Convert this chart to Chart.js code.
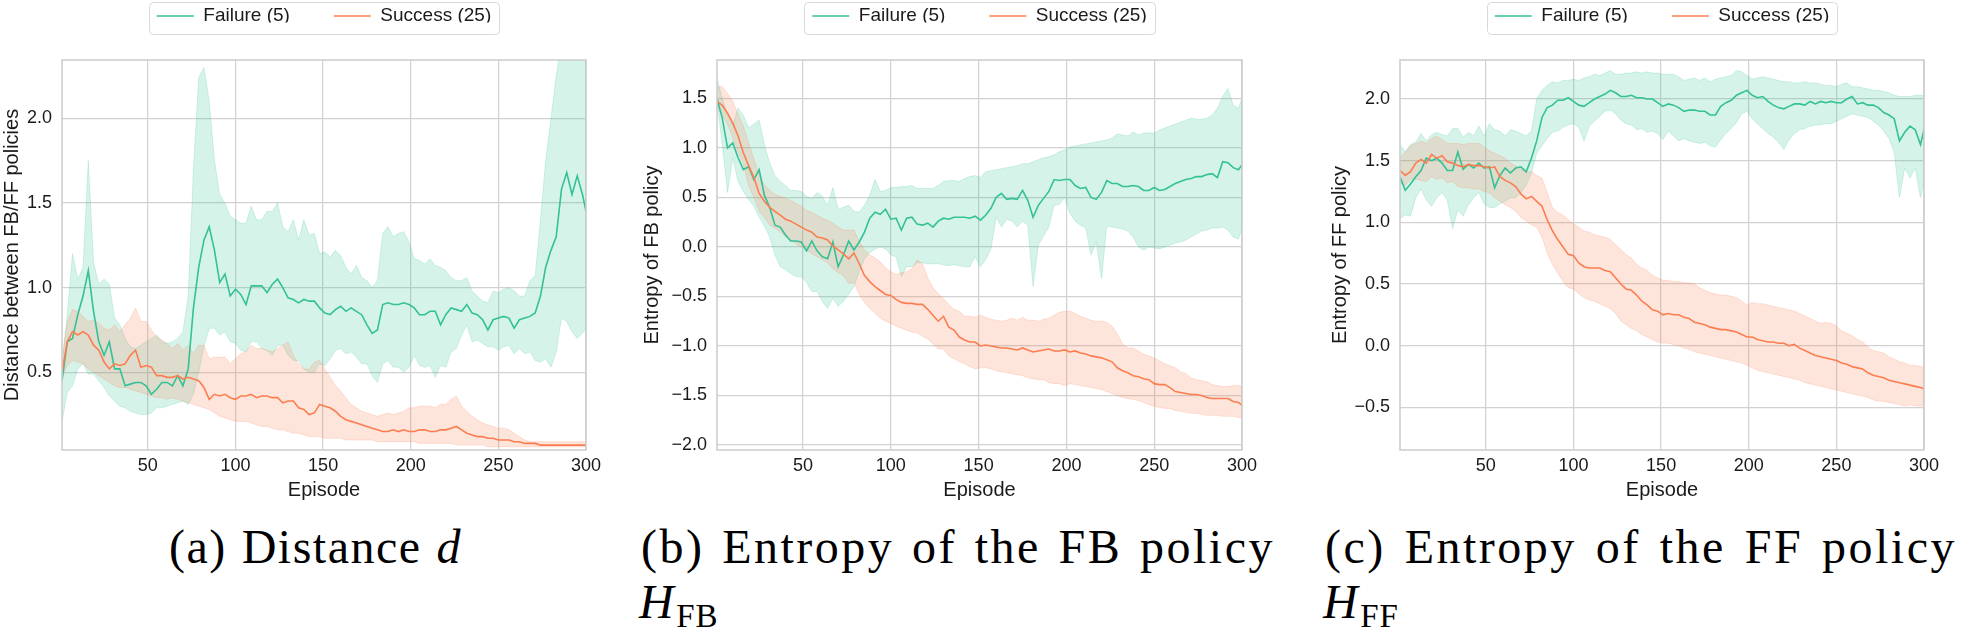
<!DOCTYPE html>
<html><head><meta charset="utf-8">
<script src="https://cdn.jsdelivr.net/npm/chart.js@4/dist/chart.umd.min.js"></script>
<style>
html,body{margin:0;padding:0;background:#fff;width:1961px;height:632px;overflow:hidden;position:relative;}
canvas{position:absolute;top:0;}
.cap{position:absolute;font-family:"Liberation Serif","Times New Roman",serif;font-size:48px;line-height:48px;color:#000;white-space:nowrap;letter-spacing:2.5px;}
.just{text-align:justify;text-align-last:justify;white-space:normal;}
.sub{font-size:33px;position:relative;top:9px;letter-spacing:1px;}
</style></head><body>
<canvas id="ca" width="610" height="506" style="left:0px"></canvas>
<canvas id="cb" width="626" height="506" style="left:640px"></canvas>
<canvas id="cc" width="620" height="506" style="left:1328px"></canvas>
<div class="cap just" style="left:169px;top:523px;width:293px;letter-spacing:1.5px">(a) Distance <i>d</i></div>
<div class="cap just" style="left:641px;top:523px;width:634px">(b) Entropy of the FB policy</div>
<div class="cap" style="left:639px;top:578px"><i>H</i><span class="sub">FB</span></div>
<div class="cap just" style="left:1325px;top:523px;width:632px">(c) Entropy of the FF policy</div>
<div class="cap" style="left:1323px;top:578px"><i>H</i><span class="sub">FF</span></div>
<script>
// ---------------- data ----------------
const episodes = [1,4,7,10,13,16,19,22,25,28,
 31,34,37,40,43,46,49,52,55,58,
 61,64,67,70,73,76,79,82,85,88,
 91,94,97,100,103,106,109,112,115,118,
 121,124,127,130,133,136,139,142,145,148,
 151,154,157,160,163,166,169,172,175,178,
 181,184,187,190,193,196,199,202,205,208,
 211,214,217,220,223,226,229,232,235,238,
 241,244,247,250,253,256,259,262,265,268,
 271,274,277,280,283,286,289,292,295,298,
 300];
const seriesLabels = ['Failure (5)', 'Success (25)'];
const xTicks = [50, 100, 150, 200, 250, 300];
const ticksA = [0.5, 1.0, 1.5, 2.0];
const ticksB = [-2.0, -1.5, -1.0, -0.5, 0.0, 0.5, 1.0, 1.5];
const ticksC = [-0.5, 0.0, 0.5, 1.0, 1.5, 2.0];

// (a) distance
const aFailMean = [0.45,0.68,0.70,0.84,0.95,1.10,0.86,0.68,0.60,0.68,
 0.52,0.52,0.42,0.43,0.44,0.44,0.42,0.37,0.40,0.44,
 0.44,0.42,0.48,0.42,0.52,0.88,1.12,1.28,1.36,1.22,
 1.03,1.08,0.95,0.99,0.96,0.90,1.01,1.01,1.01,0.97,
 1.02,1.05,1.00,0.94,0.93,0.91,0.93,0.92,0.92,0.88,
 0.85,0.84,0.87,0.89,0.86,0.88,0.86,0.84,0.78,0.73,
 0.75,0.90,0.91,0.90,0.90,0.91,0.90,0.88,0.84,0.84,
 0.86,0.86,0.78,0.84,0.88,0.87,0.86,0.90,0.85,0.84,
 0.81,0.75,0.81,0.82,0.83,0.82,0.76,0.81,0.82,0.83,
 0.85,0.95,1.12,1.22,1.30,1.58,1.68,1.55,1.66,1.55,
 1.45];
const aFailHi = [0.55,0.84,1.20,1.05,1.12,1.75,1.15,1.02,1.05,1.02,
 0.82,0.78,0.70,0.65,0.64,0.66,0.68,0.70,0.72,0.68,
 0.67,0.68,0.70,0.74,0.95,1.70,2.24,2.30,2.10,1.75,
 1.55,1.50,1.42,1.40,1.38,1.38,1.48,1.40,1.40,1.45,
 1.45,1.50,1.36,1.33,1.40,1.28,1.40,1.31,1.32,1.20,
 1.21,1.18,1.22,1.19,1.12,1.08,1.13,1.06,1.04,1.00,
 1.04,1.32,1.36,1.30,1.32,1.33,1.27,1.17,1.16,1.14,
 1.17,1.13,1.12,1.10,1.06,1.04,1.04,1.06,0.98,0.95,
 0.92,0.91,0.98,0.97,0.99,1.00,0.98,0.95,0.95,1.04,
 1.07,1.40,1.75,2.00,2.25,2.45,2.50,2.50,2.50,2.50,
 2.50];
const aFailLo = [0.21,0.38,0.42,0.52,0.55,0.49,0.49,0.45,0.41,0.36,
 0.33,0.30,0.29,0.27,0.26,0.25,0.25,0.26,0.29,0.29,
 0.30,0.31,0.32,0.33,0.31,0.37,0.50,0.65,0.76,0.76,
 0.72,0.74,0.68,0.67,0.63,0.62,0.68,0.68,0.64,0.63,
 0.60,0.66,0.66,0.60,0.57,0.57,0.52,0.50,0.50,0.55,
 0.54,0.58,0.63,0.64,0.61,0.62,0.59,0.55,0.55,0.48,
 0.44,0.55,0.57,0.53,0.53,0.50,0.53,0.60,0.54,0.53,
 0.54,0.47,0.54,0.53,0.62,0.64,0.72,0.78,0.68,0.69,
 0.67,0.65,0.65,0.63,0.65,0.66,0.61,0.64,0.61,0.62,
 0.57,0.56,0.58,0.53,0.62,0.82,0.80,0.74,0.70,0.73,
 0.76];
const aSuccMean = [0.50,0.68,0.74,0.72,0.74,0.72,0.66,0.63,0.56,0.52,
 0.55,0.54,0.55,0.60,0.63,0.53,0.54,0.53,0.48,0.48,
 0.47,0.47,0.48,0.46,0.47,0.46,0.45,0.41,0.34,0.37,
 0.36,0.37,0.35,0.34,0.36,0.36,0.37,0.35,0.36,0.36,
 0.35,0.35,0.32,0.33,0.33,0.29,0.28,0.25,0.26,0.31,
 0.30,0.29,0.27,0.24,0.22,0.21,0.20,0.19,0.18,0.17,
 0.16,0.15,0.15,0.16,0.15,0.16,0.15,0.15,0.16,0.16,
 0.15,0.15,0.16,0.16,0.17,0.18,0.16,0.14,0.13,0.12,
 0.12,0.11,0.11,0.10,0.10,0.10,0.09,0.09,0.08,0.08,
 0.08,0.07,0.07,0.07,0.07,0.07,0.07,0.07,0.07,0.07,
 0.07];
const aSuccHi = [0.58,0.80,0.87,0.86,0.83,0.80,0.81,0.79,0.76,0.75,
 0.78,0.74,0.78,0.82,0.88,0.80,0.80,0.75,0.71,0.69,
 0.67,0.64,0.67,0.63,0.66,0.61,0.66,0.66,0.58,0.59,
 0.59,0.59,0.55,0.58,0.61,0.62,0.66,0.64,0.64,0.63,
 0.62,0.64,0.66,0.68,0.60,0.55,0.52,0.52,0.56,0.57,
 0.52,0.47,0.42,0.39,0.35,0.31,0.29,0.27,0.26,0.25,
 0.24,0.25,0.26,0.25,0.26,0.27,0.29,0.29,0.30,0.30,
 0.30,0.29,0.31,0.31,0.34,0.36,0.30,0.27,0.24,0.22,
 0.20,0.19,0.18,0.17,0.17,0.16,0.14,0.12,0.10,0.09,
 0.09,0.09,0.09,0.09,0.09,0.09,0.09,0.09,0.09,0.09,
 0.09];
const aSuccLo = [0.47,0.54,0.57,0.56,0.55,0.52,0.50,0.48,0.46,0.44,
 0.42,0.41,0.41,0.40,0.39,0.38,0.37,0.36,0.35,0.35,
 0.34,0.35,0.34,0.33,0.32,0.31,0.30,0.29,0.28,0.26,
 0.24,0.23,0.22,0.21,0.21,0.21,0.20,0.19,0.18,0.18,
 0.17,0.16,0.16,0.15,0.14,0.14,0.13,0.12,0.12,0.12,
 0.11,0.11,0.11,0.11,0.10,0.10,0.10,0.10,0.10,0.10,
 0.09,0.09,0.09,0.09,0.09,0.09,0.09,0.09,0.08,0.08,
 0.08,0.08,0.08,0.08,0.08,0.07,0.07,0.07,0.07,0.07,
 0.07,0.06,0.06,0.06,0.06,0.06,0.06,0.06,0.06,0.06,
 0.06,0.06,0.06,0.06,0.06,0.06,0.06,0.06,0.06,0.06,
 0.06];

// (b) entropy of FB policy
const bFailMean = [1.50,1.30,1.00,1.05,0.90,0.78,0.81,0.68,0.78,0.52,
 0.40,0.22,0.20,0.12,0.06,0.06,0.05,-0.04,0.06,-0.04,
 -0.10,-0.12,0.05,-0.20,-0.08,0.06,-0.03,0.05,0.15,0.29,
 0.35,0.33,0.38,0.28,0.29,0.17,0.29,0.30,0.23,0.22,
 0.24,0.20,0.26,0.29,0.28,0.30,0.30,0.30,0.29,0.31,
 0.27,0.32,0.39,0.50,0.54,0.48,0.49,0.48,0.57,0.47,
 0.30,0.42,0.49,0.56,0.68,0.67,0.68,0.68,0.62,0.59,
 0.60,0.50,0.48,0.55,0.67,0.64,0.64,0.61,0.61,0.62,
 0.61,0.57,0.57,0.60,0.57,0.58,0.61,0.64,0.66,0.68,
 0.69,0.71,0.71,0.73,0.74,0.70,0.86,0.85,0.80,0.78,
 0.83];
const bFailHi = [1.70,1.50,1.33,1.23,1.40,1.33,1.20,1.24,1.28,1.03,
 0.85,0.72,0.66,0.62,0.57,0.57,0.56,0.51,0.49,0.55,
 0.51,0.42,0.60,0.38,0.40,0.42,0.36,0.35,0.42,0.52,
 0.68,0.56,0.57,0.60,0.60,0.61,0.61,0.62,0.59,0.59,
 0.59,0.59,0.62,0.66,0.67,0.67,0.66,0.69,0.71,0.72,
 0.70,0.76,0.77,0.78,0.79,0.80,0.81,0.82,0.84,0.84,
 0.86,0.88,0.90,0.91,0.93,0.96,0.98,1.01,1.02,1.03,
 1.04,1.05,1.06,1.07,1.08,1.10,1.14,1.13,1.12,1.16,
 1.13,1.15,1.15,1.15,1.18,1.20,1.22,1.24,1.26,1.28,
 1.30,1.29,1.29,1.30,1.33,1.40,1.52,1.60,1.43,1.40,
 1.50];
const bFailLo = [1.47,1.03,0.55,0.90,0.66,0.56,0.48,0.41,0.30,0.21,
 0.10,-0.08,-0.20,-0.23,-0.27,-0.30,-0.30,-0.36,-0.45,-0.45,
 -0.55,-0.62,-0.52,-0.60,-0.55,-0.48,-0.40,-0.25,-0.12,-0.06,
 -0.02,0.00,-0.02,-0.08,-0.10,-0.30,-0.20,-0.20,-0.16,-0.16,
 -0.17,-0.17,-0.17,-0.18,-0.19,-0.18,-0.19,-0.20,-0.20,-0.10,
 -0.20,-0.13,-0.02,0.30,0.20,0.28,0.26,0.20,0.26,0.22,
 -0.40,0.02,0.11,0.20,0.42,0.43,0.50,0.34,0.26,0.22,
 0.19,-0.08,0.05,-0.32,0.21,0.20,0.19,0.18,0.16,0.10,
 0.00,-0.03,0.00,-0.01,-0.02,0.00,0.02,0.04,0.05,0.07,
 0.10,0.13,0.16,0.17,0.19,0.19,0.20,0.17,0.10,0.08,
 0.19];
const bSuccMean = [1.47,1.43,1.35,1.25,1.12,0.95,0.82,0.70,0.54,0.46,
 0.40,0.36,0.32,0.28,0.26,0.23,0.20,0.17,0.15,0.10,
 0.09,0.07,0.01,-0.03,-0.07,-0.12,-0.06,-0.17,-0.29,-0.35,
 -0.40,-0.44,-0.48,-0.49,-0.53,-0.56,-0.57,-0.57,-0.58,-0.58,
 -0.63,-0.69,-0.75,-0.70,-0.81,-0.84,-0.91,-0.94,-0.96,-0.96,
 -1.00,-0.99,-1.00,-1.01,-1.02,-1.02,-1.03,-1.04,-1.02,-1.04,
 -1.06,-1.05,-1.04,-1.03,-1.05,-1.05,-1.04,-1.06,-1.05,-1.07,
 -1.08,-1.10,-1.11,-1.12,-1.14,-1.16,-1.22,-1.25,-1.27,-1.30,
 -1.31,-1.33,-1.34,-1.38,-1.39,-1.39,-1.42,-1.46,-1.47,-1.48,
 -1.49,-1.49,-1.50,-1.52,-1.53,-1.53,-1.53,-1.53,-1.56,-1.57,
 -1.60];
const bSuccHi = [1.62,1.62,1.55,1.47,1.34,1.22,1.05,0.89,0.73,0.63,
 0.57,0.53,0.51,0.49,0.47,0.44,0.41,0.37,0.35,0.32,
 0.29,0.27,0.24,0.20,0.17,0.17,0.17,0.06,-0.03,-0.08,
 -0.11,-0.15,-0.21,-0.25,-0.28,-0.26,-0.25,-0.22,-0.13,-0.17,
 -0.31,-0.41,-0.47,-0.52,-0.58,-0.63,-0.65,-0.70,-0.70,-0.71,
 -0.69,-0.71,-0.73,-0.74,-0.75,-0.74,-0.72,-0.74,-0.71,-0.74,
 -0.74,-0.75,-0.73,-0.72,-0.69,-0.66,-0.65,-0.65,-0.67,-0.70,
 -0.72,-0.74,-0.75,-0.75,-0.76,-0.80,-0.88,-0.98,-1.02,-1.02,
 -1.05,-1.08,-1.10,-1.12,-1.15,-1.18,-1.20,-1.22,-1.26,-1.28,
 -1.32,-1.34,-1.35,-1.36,-1.39,-1.40,-1.41,-1.41,-1.40,-1.40,
 -1.41];
const bSuccLo = [1.40,1.33,1.24,1.10,0.96,0.84,0.62,0.50,0.36,0.30,
 0.22,0.19,0.15,0.10,0.07,0.03,0.00,-0.03,-0.07,-0.10,
 -0.13,-0.16,-0.22,-0.26,-0.29,-0.37,-0.36,-0.48,-0.56,-0.62,
 -0.67,-0.72,-0.75,-0.77,-0.80,-0.82,-0.84,-0.86,-0.87,-0.90,
 -0.93,-0.98,-1.03,-1.03,-1.10,-1.13,-1.16,-1.18,-1.21,-1.23,
 -1.22,-1.22,-1.23,-1.25,-1.26,-1.27,-1.28,-1.29,-1.30,-1.32,
 -1.33,-1.34,-1.34,-1.37,-1.38,-1.38,-1.40,-1.38,-1.39,-1.40,
 -1.41,-1.42,-1.43,-1.44,-1.46,-1.48,-1.50,-1.52,-1.53,-1.54,
 -1.55,-1.57,-1.59,-1.61,-1.62,-1.63,-1.63,-1.65,-1.66,-1.67,
 -1.68,-1.68,-1.69,-1.70,-1.70,-1.70,-1.71,-1.71,-1.71,-1.72,
 -1.73];

// (c) entropy of FF policy
const cFailMean = [1.37,1.26,1.31,1.37,1.42,1.52,1.50,1.52,1.48,1.42,
 1.42,1.57,1.43,1.47,1.44,1.48,1.44,1.45,1.28,1.38,
 1.44,1.40,1.44,1.45,1.41,1.52,1.66,1.85,1.93,1.95,
 1.99,1.99,2.01,1.98,1.95,1.94,1.97,2.00,2.02,2.04,
 2.07,2.05,2.02,2.02,2.03,2.01,2.01,2.00,2.00,1.97,
 1.94,1.96,1.95,1.93,1.90,1.91,1.91,1.90,1.90,1.87,
 1.87,1.94,1.97,1.99,2.03,2.05,2.07,2.03,2.01,2.02,
 1.98,1.95,1.93,1.92,1.94,1.96,1.96,1.95,1.98,1.96,
 1.98,1.97,1.98,1.97,1.97,2.00,2.02,1.96,1.97,1.95,
 1.95,1.93,1.89,1.87,1.84,1.66,1.73,1.78,1.75,1.63,
 1.75];
const cFailHi = [1.63,1.57,1.63,1.65,1.72,1.66,1.71,1.73,1.71,1.70,
 1.76,1.76,1.69,1.73,1.70,1.78,1.70,1.80,1.75,1.74,
 1.70,1.75,1.74,1.72,1.70,1.74,2.00,2.07,2.11,2.14,
 2.13,2.15,2.15,2.16,2.15,2.17,2.18,2.20,2.19,2.21,
 2.23,2.20,2.20,2.21,2.21,2.22,2.21,2.22,2.21,2.21,
 2.20,2.20,2.20,2.18,2.15,2.16,2.17,2.15,2.17,2.14,
 2.16,2.17,2.18,2.19,2.23,2.22,2.19,2.16,2.17,2.18,
 2.17,2.16,2.15,2.14,2.14,2.13,2.13,2.14,2.13,2.13,
 2.12,2.11,2.11,2.10,2.12,2.13,2.10,2.10,2.09,2.08,
 2.07,2.07,2.06,2.05,2.03,2.02,2.02,2.02,2.03,2.03,
 2.03];
const cFailLo = [1.03,1.06,1.05,1.20,1.27,1.18,1.13,1.20,1.24,1.18,
 0.95,1.10,1.05,1.14,1.20,1.24,1.15,1.12,1.12,1.15,
 1.17,1.20,1.20,1.24,1.30,1.40,1.56,1.62,1.68,1.73,
 1.74,1.77,1.79,1.80,1.77,1.66,1.78,1.82,1.86,1.90,
 1.91,1.88,1.83,1.80,1.79,1.75,1.76,1.73,1.74,1.72,
 1.67,1.74,1.70,1.66,1.68,1.66,1.65,1.64,1.65,1.62,
 1.61,1.67,1.72,1.76,1.81,1.88,1.90,1.84,1.80,1.76,
 1.72,1.69,1.65,1.59,1.67,1.72,1.75,1.76,1.78,1.79,
 1.79,1.80,1.80,1.82,1.84,1.86,1.88,1.87,1.86,1.85,
 1.82,1.79,1.74,1.68,1.57,1.20,1.44,1.36,1.44,1.20,
 1.33];
const cSuccMean = [1.42,1.38,1.41,1.48,1.51,1.48,1.55,1.52,1.54,1.49,
 1.48,1.46,1.45,1.47,1.46,1.46,1.45,1.44,1.45,1.37,
 1.34,1.32,1.29,1.23,1.19,1.21,1.17,1.13,1.02,0.93,
 0.86,0.80,0.74,0.73,0.67,0.64,0.63,0.63,0.63,0.61,
 0.60,0.55,0.50,0.46,0.45,0.41,0.36,0.33,0.29,0.28,
 0.25,0.26,0.25,0.25,0.23,0.22,0.19,0.18,0.17,0.15,
 0.14,0.13,0.13,0.12,0.11,0.09,0.07,0.07,0.05,0.04,
 0.03,0.03,0.02,0.02,0.00,0.01,-0.02,-0.04,-0.06,-0.08,
 -0.09,-0.10,-0.11,-0.12,-0.14,-0.15,-0.17,-0.18,-0.19,-0.22,
 -0.24,-0.25,-0.26,-0.28,-0.29,-0.30,-0.31,-0.32,-0.33,-0.34,
 -0.35];
const cSuccHi = [1.52,1.57,1.62,1.64,1.66,1.64,1.68,1.70,1.67,1.64,
 1.64,1.64,1.63,1.64,1.64,1.64,1.61,1.58,1.56,1.54,
 1.52,1.48,1.46,1.43,1.41,1.41,1.38,1.36,1.24,1.12,
 1.08,1.06,1.02,0.99,0.96,0.93,0.92,0.90,0.89,0.88,
 0.86,0.82,0.78,0.74,0.71,0.66,0.63,0.61,0.57,0.55,
 0.53,0.53,0.52,0.52,0.51,0.51,0.50,0.47,0.45,0.43,
 0.42,0.41,0.41,0.40,0.39,0.36,0.33,0.35,0.34,0.34,
 0.33,0.32,0.31,0.30,0.29,0.28,0.26,0.24,0.22,0.20,
 0.18,0.19,0.18,0.16,0.12,0.10,0.08,0.05,0.03,-0.01,
 -0.04,-0.05,-0.06,-0.09,-0.11,-0.13,-0.14,-0.16,-0.16,-0.17,
 -0.17];
const cSuccLo = [1.32,1.30,1.35,1.35,1.34,1.33,1.37,1.35,1.36,1.32,
 1.33,1.29,1.28,1.28,1.27,1.27,1.25,1.24,1.20,1.17,
 1.14,1.12,1.09,1.04,1.01,0.98,0.96,0.88,0.75,0.66,
 0.59,0.52,0.47,0.46,0.42,0.39,0.37,0.36,0.34,0.32,
 0.30,0.26,0.20,0.17,0.14,0.12,0.09,0.07,0.05,0.03,
 0.02,0.02,0.01,0.00,-0.02,-0.03,-0.05,-0.06,-0.07,-0.08,
 -0.09,-0.10,-0.11,-0.12,-0.13,-0.14,-0.16,-0.18,-0.20,-0.21,
 -0.22,-0.23,-0.24,-0.25,-0.26,-0.27,-0.28,-0.30,-0.31,-0.32,
 -0.33,-0.34,-0.35,-0.36,-0.37,-0.38,-0.39,-0.40,-0.41,-0.42,
 -0.44,-0.45,-0.45,-0.46,-0.47,-0.48,-0.49,-0.48,-0.49,-0.49,
 -0.49];

// ---------------- style ----------------
const GREEN = '#33c196', ORANGE = '#fc7e50';
const GREEN_FILL = 'rgba(51,193,150,0.2)', ORANGE_FILL = 'rgba(252,126,80,0.2)';
const GRID = '#d2d2d2', TEXT = '#1a1a1a';
const LEGEND_FONT = 19, LEGEND_PAD = 44;
Chart.defaults.font.family = '"Liberation Sans", Arial, Helvetica, sans-serif';
Chart.defaults.color = TEXT;

const pts = v => episodes.map((e, i) => ({x: e, y: v[i]}));
const fmt = v => (v < 0 ? '\u2212' : '') + Math.abs(v).toFixed(1);

const LEGEND_H = 60, LEGEND_TOP = 16 - LEGEND_PAD - LEGEND_FONT / 2;
const panelPlugin = {
  id: 'panelPlugin',
  beforeLayout(chart) {
    const lg = chart.legend;
    if (lg && !lg._fixedFit) {
      const f = lg.fit;
      lg.fit = function () { f.call(this); this.height = LEGEND_H; };
      lg._fixedFit = true;
    }
  },
  afterLayout(chart) {
    const lg = chart.legend, a = chart.chartArea;
    if (!lg) return;
    lg.left = a.left; lg.right = a.right; lg.width = a.right - a.left;
    lg.top = LEGEND_TOP; lg.bottom = LEGEND_TOP + lg.height;
  },
  beforeDraw(chart) {
    const lg = chart.legend, hb = lg && lg.legendHitBoxes;
    if (!hb || !hb.length) return;
    const last = hb[hb.length - 1];
    const x0 = Math.round(hb[0].left - 8) + 0.5, x1 = Math.round(last.left + last.width + 8) + 0.5;
    const y0 = Math.round(hb[0].top - 5) + 0.5, y1 = Math.round(hb[0].top + hb[0].height + 8) + 0.5;
    const ctx = chart.ctx;
    ctx.save();
    ctx.beginPath();
    if (ctx.roundRect) ctx.roundRect(x0, y0, x1 - x0, y1 - y0, 4); else ctx.rect(x0, y0, x1 - x0, y1 - y0);
    ctx.fillStyle = 'rgba(255,255,255,0.8)'; ctx.fill();
    ctx.strokeStyle = '#d9d9d9'; ctx.lineWidth = 1; ctx.stroke();
    ctx.restore();
  },
  afterDatasetsDraw(chart) {
    const a = chart.chartArea, ctx = chart.ctx;
    ctx.save();
    ctx.strokeStyle = '#cccccc'; ctx.lineWidth = 1.5;
    ctx.strokeRect(a.left, a.top, a.right - a.left, a.bottom - a.top);
    ctx.restore();
  }
};

function makePanel(id, s, yMin, yMax, yTicks, yTitle, yAxisW, padRight) {
  const line = (label, v, color, order) => ({label, data: pts(v), borderColor: color, backgroundColor: color,
    borderWidth: 1.6, pointRadius: 0, pointHoverRadius: 0, tension: 0, fill: false, order});
  const band = (label, v, fillColor, fill, order) => ({label, data: pts(v), borderColor: fillColor, backgroundColor: fillColor,
    borderWidth: 1, pointRadius: 0, pointHoverRadius: 0, tension: 0, fill, order});
  new Chart(document.getElementById(id), {
    type: 'line',
    data: {datasets: [
      line(seriesLabels[0], s.failMean, GREEN, 2),
      line(seriesLabels[1], s.succMean, ORANGE, 1),
      band('failHi', s.failHi, GREEN_FILL, '+1', 4),
      band('failLo', s.failLo, GREEN_FILL, false, 4),
      band('succHi', s.succHi, ORANGE_FILL, '+1', 3),
      band('succLo', s.succLo, ORANGE_FILL, false, 3)
    ]},
    options: {
      responsive: false, animation: false, devicePixelRatio: 1,
      layout: {padding: {left: 0, right: padRight, top: 0, bottom: 0}},
      plugins: {
        tooltip: {enabled: false},
        legend: {
          position: 'top', align: 'center',
          labels: {
            filter: item => item.datasetIndex < 2,
            sort: (a, b) => a.datasetIndex - b.datasetIndex,
            usePointStyle: true, pointStyle: 'line', pointStyleWidth: 37, boxWidth: 37,
            padding: LEGEND_PAD, color: TEXT, font: {size: LEGEND_FONT}
          }
        }
      },
      scales: {
        x: {
          type: 'linear', min: 1, max: 300,
          afterBuildTicks: sc => { sc.ticks = xTicks.map(v => ({value: v})); },
          afterFit: sc => { sc.height = 56; },
          ticks: {callback: v => String(v), padding: 5, font: {size: 18}, color: TEXT, maxRotation: 0},
          grid: {color: GRID, lineWidth: 1.25, drawTicks: false},
          border: {display: false},
          title: {display: true, text: 'Episode', font: {size: 20}, color: TEXT, padding: {top: 0, bottom: 4}}
        },
        y: {
          type: 'linear', min: yMin, max: yMax,
          afterBuildTicks: sc => { sc.ticks = yTicks.map(v => ({value: v})); },
          afterFit: sc => { sc.width = yAxisW; },
          ticks: {callback: v => fmt(v), padding: 10, font: {size: 18}, color: TEXT},
          grid: {color: GRID, lineWidth: 1.25, drawTicks: false},
          border: {display: false},
          title: {display: true, text: yTitle, font: {size: 20}, color: TEXT, padding: {top: 0, bottom: 0}}
        }
      }
    },
    plugins: [panelPlugin]
  });
}

makePanel('ca', {failMean: aFailMean, failHi: aFailHi, failLo: aFailLo, succMean: aSuccMean, succHi: aSuccHi, succLo: aSuccLo},
  0.041, 2.344, ticksA, 'Distance between FB/FF policies', 62, 24);
makePanel('cb', {failMean: bFailMean, failHi: bFailHi, failLo: bFailLo, succMean: bSuccMean, succHi: bSuccHi, succLo: bSuccLo},
  -2.05, 1.887, ticksB, 'Entropy of FB policy', 77, 24);
makePanel('cc', {failMean: cFailMean, failHi: cFailHi, failLo: cFailLo, succMean: cSuccMean, succHi: cSuccHi, succLo: cSuccLo},
  -0.846, 2.316, ticksC, 'Entropy of FF policy', 72, 24);
</script>
</body></html>
